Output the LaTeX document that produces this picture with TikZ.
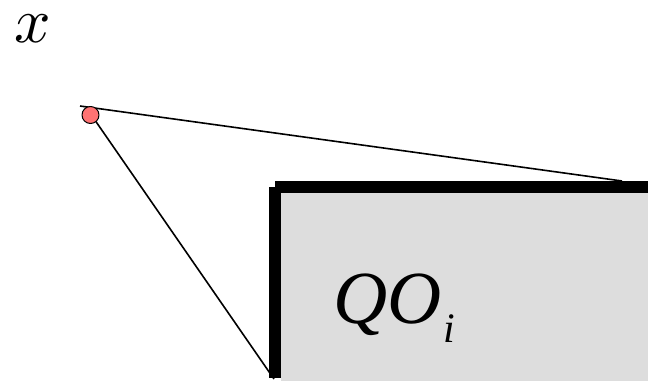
\documentclass[tikz,border=0pt]{standalone}
\usepackage{fontspec}
\usepackage{graphicx}
\setmainfont{Liberation Serif}
\begin{document}
\begin{tikzpicture}[x=1pt,y=-1pt,line join=round,
    bigtext/.style={inner sep=0pt,anchor=base west,font=\fontsize{75}{75}\selectfont\itshape},
    wall/.style={line width=12pt},
    ray/.style={line width=1.6pt}]
			\useasboundingbox (0,0) rectangle (648,381);
			
			\coordinate (G1) at (281,193);
			\coordinate (G2) at (648,381);
			\coordinate (W1) at (275,187);
			\coordinate (W2) at (648,187);
			\coordinate (W3) at (275,378);
			
			\coordinate (T) at (622,181);
			\coordinate (B) at (274,379);
			\coordinate (S1) at (80,106);
			\coordinate (S2) at (90,113);
			
			\fill[gray!27] (G1) rectangle (G2);
			\draw[wall] (W1) -- (W2);
			\draw[wall] (W1) -- (W3);
			
			\draw[ray] (S1) -- (T);
			\draw[ray] (S2) -- (B);
			
			\node[circle,draw,fill=red!55,inner sep=0pt,minimum size=17pt,line width=1pt] (pt) at (90.5,115) {};
			
			\node[inner sep=0pt,anchor=base west,text height=30pt] (xlab) at (14,42) {\scalebox{6.4}{$x$}};
			\node[bigtext] (qo) at (333,323) {QO};
			\node[inner sep=0pt,anchor=base west,font=\fontsize{42}{42}\selectfont\itshape] (sub) at (qo.base east) [xshift=2pt,yshift=-19pt] {i};
		\end{tikzpicture}
\end{document}
